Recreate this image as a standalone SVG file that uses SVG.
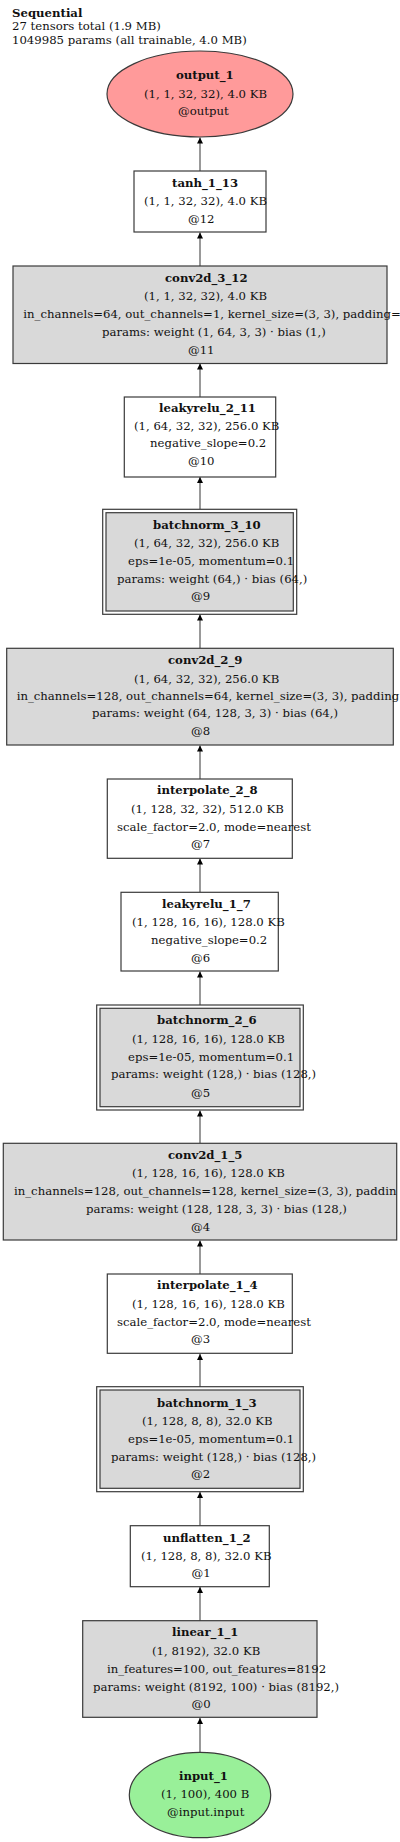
<svg xmlns="http://www.w3.org/2000/svg" width="400" height="1842" viewBox="0 0 400 1842">
<defs>
<style>
text{font-family:"DejaVu Serif","Liberation Serif",serif;font-size:11.7px;fill:#111}
.b{font-weight:bold}
.box{fill:#fff;stroke:#3a3a3a;stroke-width:1.2}
.g{fill:#d9d9d9;stroke:#3a3a3a;stroke-width:1.2}
.outer{fill:none;stroke:#3a3a3a;stroke-width:1.2}
.edge{stroke:#6e6e6e;stroke-width:1.4;fill:none}
</style>
<marker id="arr" viewBox="0 0 10 10" refX="10" refY="5" markerWidth="8" markerHeight="6" markerUnits="userSpaceOnUse" orient="auto">
<path d="M0,0 L10,5 L0,10 z" fill="#000"/>
</marker>
</defs>
<rect width="400" height="1842" fill="#fff"/>

<g id="header">
<text x="12" y="17" class="b">Sequential</text>
<text x="12" y="30">27 tensors total (1.9 MB)</text>
<text x="12" y="44">1049985 params (all trainable, 4.0 MB)</text>
</g>

<g id="connectors">
<line class="edge" x1="200" y1="1752" x2="200" y2="1718" marker-end="url(#arr)"/>
<line class="edge" x1="200" y1="1621" x2="200" y2="1587" marker-end="url(#arr)"/>
<line class="edge" x1="200" y1="1526" x2="200" y2="1492" marker-end="url(#arr)"/>
<line class="edge" x1="200" y1="1387" x2="200" y2="1354" marker-end="url(#arr)"/>
<line class="edge" x1="200" y1="1274" x2="200" y2="1240.5" marker-end="url(#arr)"/>
<line class="edge" x1="200" y1="1143" x2="200" y2="1110.5" marker-end="url(#arr)"/>
<line class="edge" x1="200" y1="1005" x2="200" y2="971.5" marker-end="url(#arr)"/>
<line class="edge" x1="200" y1="892" x2="200" y2="858.5" marker-end="url(#arr)"/>
<line class="edge" x1="200" y1="779" x2="200" y2="745.5" marker-end="url(#arr)"/>
<line class="edge" x1="200" y1="648" x2="200" y2="614.5" marker-end="url(#arr)"/>
<line class="edge" x1="200" y1="509" x2="200" y2="477" marker-end="url(#arr)"/>
<line class="edge" x1="200" y1="397" x2="200" y2="363.5" marker-end="url(#arr)"/>
<line class="edge" x1="200" y1="266" x2="200" y2="232.5" marker-end="url(#arr)"/>
<line class="edge" x1="200" y1="171" x2="200" y2="137.5" marker-end="url(#arr)"/>
</g>

<g id="output_1">
<ellipse cx="200" cy="94" rx="93" ry="43" fill="#ff9a9a" stroke="#3a3a3a" stroke-width="1.2"/>
<text x="176" y="79" class="b">output_1</text>
<text x="144" y="97.5">(1, 1, 32, 32), 4.0 KB</text>
<text x="178" y="114.5">@output</text>
</g>

<g id="tanh_1_13">
<rect class="box" x="134" y="171" width="132" height="61"/>
<text x="172" y="186.5" class="b">tanh_1_13</text>
<text x="144" y="205">(1, 1, 32, 32), 4.0 KB</text>
<text x="188" y="222.5">@12</text>
</g>

<g id="conv2d_3_12">
<rect class="g" x="13" y="266" width="374" height="97.5"/>
<text x="165" y="281.5" class="b">conv2d_3_12</text>
<text x="144" y="300">(1, 1, 32, 32), 4.0 KB</text>
<text x="23.3" y="318">in_channels=64, out_channels=1, kernel_size=(3, 3), padding=</text>
<text x="102" y="336">params: weight (1, 64, 3, 3) · bias (1,)</text>
<text x="188" y="354">@11</text>
</g>

<g id="leakyrelu_2_11">
<rect class="box" x="124.3" y="397" width="151.4" height="80"/>
<text x="159" y="412.3" class="b">leakyrelu_2_11</text>
<text x="134" y="430">(1, 64, 32, 32), 256.0 KB</text>
<text x="150" y="447.3">negative_slope=0.2</text>
<text x="188" y="465">@10</text>
</g>

<g id="batchnorm_3_10">
<rect class="outer" x="102.7" y="509.3" width="194" height="105"/>
<rect class="g" x="106" y="512.7" width="187.3" height="98.3"/>
<text x="153" y="529" class="b">batchnorm_3_10</text>
<text x="134" y="547.3">(1, 64, 32, 32), 256.0 KB</text>
<text x="128" y="565">eps=1e-05, momentum=0.1</text>
<text x="117" y="582.7">params: weight (64,) · bias (64,)</text>
<text x="191" y="600">@9</text>
</g>

<g id="conv2d_2_9">
<rect class="g" x="6.7" y="648.3" width="386.6" height="96.7"/>
<text x="168" y="664" class="b">conv2d_2_9</text>
<text x="134" y="682.7">(1, 64, 32, 32), 256.0 KB</text>
<text x="16.7" y="700">in_channels=128, out_channels=64, kernel_size=(3, 3), padding</text>
<text x="92" y="717.3">params: weight (64, 128, 3, 3) · bias (64,)</text>
<text x="191" y="735">@8</text>
</g>

<g id="interpolate_2_8">
<rect class="box" x="107.3" y="779" width="185" height="79.3"/>
<text x="157" y="794.3" class="b">interpolate_2_8</text>
<text x="131" y="813.3">(1, 128, 32, 32), 512.0 KB</text>
<text x="117" y="831">scale_factor=2.0, mode=nearest</text>
<text x="191" y="848.3">@7</text>
</g>

<g id="leakyrelu_1_7">
<rect class="box" x="121" y="892.3" width="157.3" height="78.7"/>
<text x="162" y="907.7" class="b">leakyrelu_1_7</text>
<text x="132" y="926">(1, 128, 16, 16), 128.0 KB</text>
<text x="151" y="944">negative_slope=0.2</text>
<text x="191" y="961.7">@6</text>
</g>

<g id="batchnorm_2_6">
<rect class="outer" x="96.7" y="1005" width="206.6" height="105"/>
<rect class="g" x="100" y="1008.3" width="200" height="98.4"/>
<text x="157" y="1024.3" class="b">batchnorm_2_6</text>
<text x="132" y="1043.3">(1, 128, 16, 16), 128.0 KB</text>
<text x="128" y="1061">eps=1e-05, momentum=0.1</text>
<text x="111" y="1078.3">params: weight (128,) · bias (128,)</text>
<text x="191" y="1096.7">@5</text>
</g>

<g id="conv2d_1_5">
<rect class="g" x="3.3" y="1143.3" width="393.4" height="96.7"/>
<text x="168" y="1159" class="b">conv2d_1_5</text>
<text x="132" y="1177.3">(1, 128, 16, 16), 128.0 KB</text>
<text x="14" y="1195">in_channels=128, out_channels=128, kernel_size=(3, 3), paddin</text>
<text x="86" y="1212.7">params: weight (128, 128, 3, 3) · bias (128,)</text>
<text x="191" y="1230.7">@4</text>
</g>

<g id="interpolate_1_4">
<rect class="box" x="107.3" y="1274" width="185" height="79.3"/>
<text x="157" y="1289.3" class="b">interpolate_1_4</text>
<text x="132" y="1307.7">(1, 128, 16, 16), 128.0 KB</text>
<text x="117" y="1325.7">scale_factor=2.0, mode=nearest</text>
<text x="191" y="1343.3">@3</text>
</g>

<g id="batchnorm_1_3">
<rect class="outer" x="96.7" y="1386.7" width="206.6" height="105"/>
<rect class="g" x="100" y="1390" width="200" height="98.3"/>
<text x="157" y="1406.7" class="b">batchnorm_1_3</text>
<text x="142" y="1425">(1, 128, 8, 8), 32.0 KB</text>
<text x="128" y="1442.7">eps=1e-05, momentum=0.1</text>
<text x="111" y="1460.7">params: weight (128,) · bias (128,)</text>
<text x="191" y="1478.3">@2</text>
</g>

<g id="unflatten_1_2">
<rect class="box" x="130.3" y="1525.7" width="139" height="61"/>
<text x="163" y="1541.7" class="b">unflatten_1_2</text>
<text x="141" y="1560">(1, 128, 8, 8), 32.0 KB</text>
<text x="191.5" y="1577.3">@1</text>
</g>

<g id="linear_1_1">
<rect class="g" x="82.7" y="1620.7" width="234.3" height="96.6"/>
<text x="172" y="1636" class="b">linear_1_1</text>
<text x="152" y="1655">(1, 8192), 32.0 KB</text>
<text x="107" y="1672.5">in_features=100, out_features=8192</text>
<text x="93" y="1690.7">params: weight (8192, 100) · bias (8192,)</text>
<text x="191.5" y="1708.3">@0</text>
</g>

<g id="input_1">
<ellipse cx="200" cy="1795" rx="70.7" ry="42.7" fill="#99f099" stroke="#3a3a3a" stroke-width="1.2"/>
<text x="179" y="1780" class="b">input_1</text>
<text x="161" y="1798.3">(1, 100), 400 B</text>
<text x="167" y="1816">@input.input</text>
</g>
</svg>
